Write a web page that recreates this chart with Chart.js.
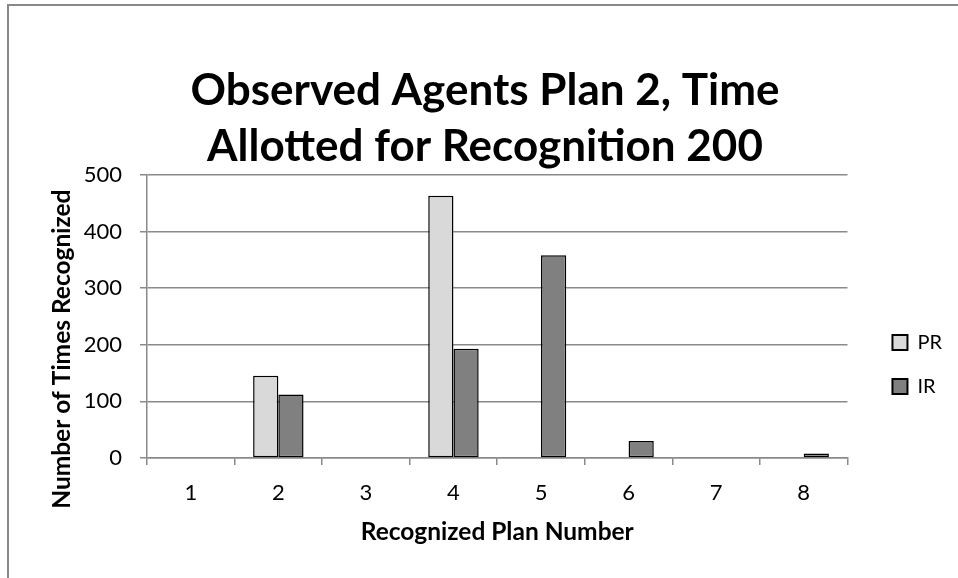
<!DOCTYPE html>
<html>
<head>
<meta charset="utf-8">
<script src="https://cdn.jsdelivr.net/npm/chart.js@4.4.1/dist/chart.umd.min.js"></script>
<style>
  html, body { margin: 0; padding: 0; background: #fff; overflow: hidden; }
  #wrap { position: absolute; left: 0; top: 0; width: 958px; height: 578px; }
  #frame { position: absolute; left: 7px; top: 4px; width: 1000px; height: 1000px; border-left: 2px solid #888; border-top: 2px solid #888; pointer-events: none; }
</style>
</head>
<body>
<div id="wrap">
  <canvas id="c" width="958" height="578"></canvas>
  <div id="frame"></div>
</div>
<script>
const categories = ["1", "2", "3", "4", "5", "6", "7", "8"];
const prValues = [0, 145, 0, 463, 0, 0, 0, 0];
const irValues = [0, 112, 0, 193, 358, 30, 0, 8];
const seriesNames = ["PR", "IR"];
const titleLines = ["Observed Agents Plan 2, Time", "Allotted for Recognition 200"];
const xTitle = "Recognized Plan Number";
const yTitle = "Number of Times Recognized";

const FONT = "Lato, 'Open Sans', sans-serif";
const GRID = "#8a8a8a";
// trailing spaces move the rotated y title a little lower, as in the original
const yTitleShifted = yTitle + "\u00A0".repeat(11);

new Chart(document.getElementById("c"), {
  type: "bar",
  data: {
    labels: categories,
    datasets: [
      { label: seriesNames[0], data: prValues, backgroundColor: "#d9d9d9", borderColor: "#000", borderWidth: 1.5, borderSkipped: false },
      { label: seriesNames[1], data: irValues, backgroundColor: "#808080", borderColor: "#000", borderWidth: 1.5, borderSkipped: false }
    ]
  },
  options: {
    responsive: false,
    animation: false,
    layout: { padding: { left: 18, right: 6, top: 0, bottom: 23 } },
    datasets: { bar: { barPercentage: 1.0, categoryPercentage: 0.576 } },
    plugins: {
      tooltip: { enabled: false },
      title: {
        display: true,
        text: titleLines,
        color: "#000",
        font: { family: FONT, size: 44, weight: "bold", lineHeight: 1.27 },
        padding: { top: 63, bottom: 0 }
      },
      legend: {
        position: "right",
        align: "center",
        title: { display: true, text: "", font: { size: 10, lineHeight: 1.2 }, padding: { top: 0, bottom: 162 } },
        labels: {
          color: "#000",
          font: { family: FONT, size: 20 },
          boxWidth: 15,
          boxHeight: 15,
          padding: 24,
          generateLabels(chart) {
            return chart.data.datasets.map((ds, i) => ({
              text: ds.label, fillStyle: ds.backgroundColor, strokeStyle: "#000",
              lineWidth: 2, hidden: false, datasetIndex: i, fontColor: "#000"
            }));
          }
        }
      }
    },
    scales: {
      x: {
        grid: { display: true, drawOnChartArea: false, drawTicks: true, tickLength: 7, color: GRID, lineWidth: 1.5, offset: true },
        border: { display: true, color: GRID, width: 1.5 },
        ticks: { color: "#000", font: { family: FONT, size: 22 }, padding: 15 },
        title: { display: true, text: xTitle, color: "#000", font: { family: FONT, size: 24.5, weight: "bold" }, padding: { top: 0, bottom: 8 } },
        afterFit(scale) { scale.height = 97; }
      },
      y: {
        min: 0, max: 500,
        ticks: { stepSize: 100, color: "#000", font: { family: FONT, size: 22 }, padding: 18 },
        grid: { color: GRID, lineWidth: 1.5, tickLength: 7 },
        border: { display: true, color: GRID, width: 1.5 },
        title: { display: true, text: yTitleShifted, color: "#000", font: { family: FONT, size: 24.5, weight: "bold" }, padding: { top: 29, bottom: 0 } },
        afterFit(scale) { scale.width = 129; }
      },
      gap: {
        axis: "y",
        position: "right",
        display: true,
        grid: { display: false },
        border: { display: false },
        ticks: { display: false },
        afterFit(scale) { scale.width = 21; }
      }
    }
  }
});
</script>
</body>
</html>
